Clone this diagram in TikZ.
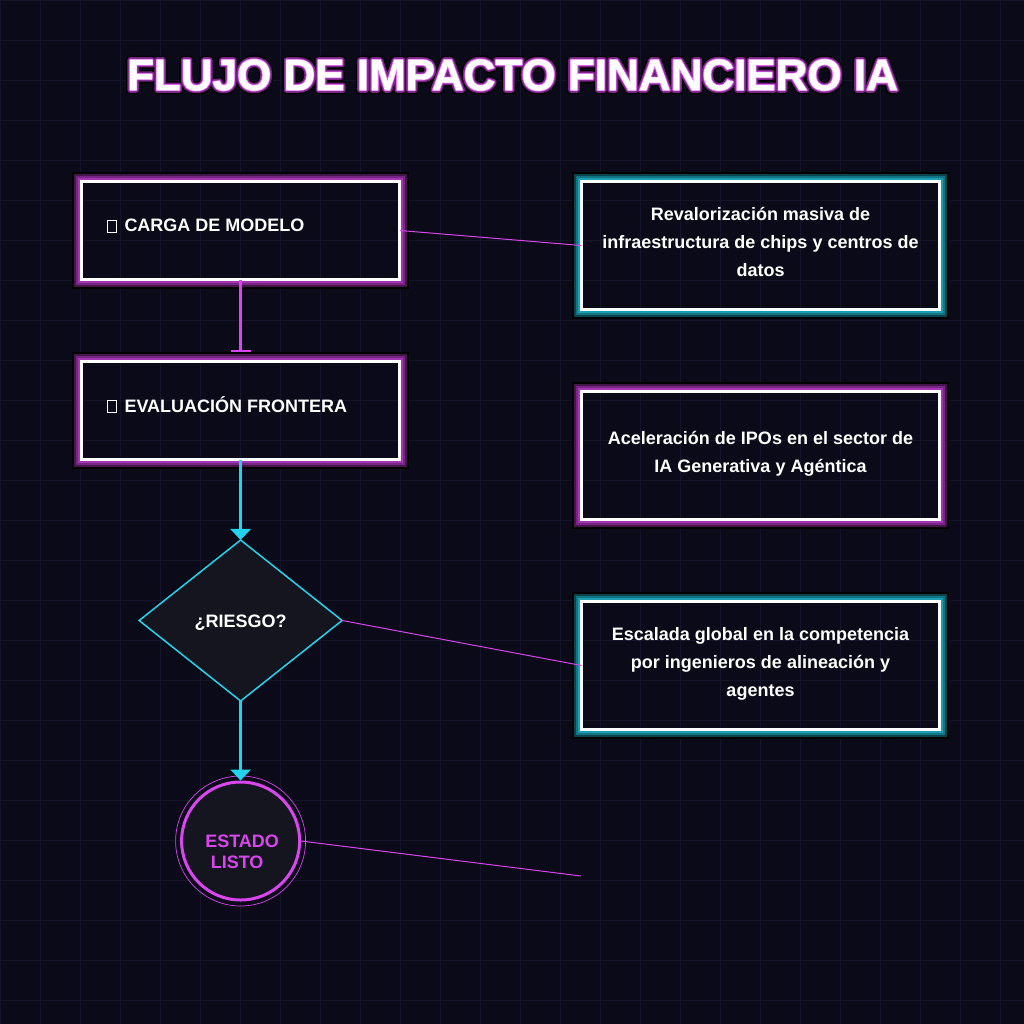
\documentclass[tikz,border=0pt]{standalone}
\usepackage{fontspec}
\setmainfont{Liberation Sans}
\newfontfamily\titlecore[FakeBold=1]{Liberation Sans Bold}
\newfontfamily\titlebright[FakeBold=5]{Liberation Sans Bold}
\newfontfamily\titlemid[FakeBold=12]{Liberation Sans Bold}
\newfontfamily\titleblack[FakeBold=18]{Liberation Sans Bold}
\usetikzlibrary{arrows,arrows.meta,positioning,shapes.geometric}
\definecolor{pagebg}{HTML}{0A0A18}
\definecolor{gridline}{HTML}{15152A}
\definecolor{panelbg}{HTML}{15151F}
\definecolor{neonpink}{HTML}{D946EF}
\definecolor{neoncyan}{HTML}{22D3EE}
\newcommand{\tofu}{{\fboxsep=0pt\fboxrule=.9pt\fbox{\rule{0pt}{11pt}\rule{7.6pt}{0pt}}}\hspace{8pt}}
\newcommand{\glowband}[4]{\draw[#2,line width=#3] ([shift={(-#4,#4)}]#1.north west) rectangle ([shift={(#4,-#4)}]#1.south east);}
\newcommand{\glowframe}[2]{\glowband{#1}{#2!75!black}{2pt}{2.5pt}\glowband{#1}{#2!55!black}{2pt}{4.5pt}\glowband{#1}{#2!32!black}{2pt}{6.5pt}\glowband{#1}{black}{2pt}{8.5pt}}
\begin{document}
\begin{tikzpicture}[
	flowbox/.style={rectangle,draw=white,line width=3pt,outer sep=0pt,inner sep=0pt,minimum width=318.4pt,minimum height=98pt},
	infobox/.style={flowbox,minimum width=358pt,minimum height=128pt,text=white,font=\bfseries\fontsize{18pt}{28pt}\selectfont,align=center,text width=340pt,
		execute at begin node={\spaceskip=5pt\rule[-11.2pt]{0pt}{28pt}},execute at end node={\rule[-11.2pt]{0pt}{28pt}}},
	boxtext/.style={inner sep=0pt,text=white,font=\bfseries\fontsize{18pt}{22pt}\selectfont,anchor=base west},
	titletext/.style={inner sep=0pt,font=\fontsize{44pt}{50pt}\selectfont},
	flowlink/.style={-{Triangle[width=20pt,length=11pt]},neoncyan,line width=3pt},
	stoplink/.style={-{Bar[width=20pt,line width=2.5pt]},neonpink,line width=3pt,shorten >=9.5pt},
	sidelink/.style={neonpink,line width=1pt}]

	\fill[pagebg] (0,0) rectangle (1024pt,-1024pt);
	\useasboundingbox (0,0) rectangle (1024pt,-1024pt);
	\foreach \gridpos in {0,40,...,1000} {
		\draw[gridline,line width=1pt] (\gridpos pt+.5pt,0) -- (\gridpos pt+.5pt,-1024pt);
		\draw[gridline,line width=1pt] (0,-\gridpos pt-.5pt) -- (1024pt,-\gridpos pt-.5pt);
	}

	\begin{scope}[line join=round]
	\node[titletext,text=black] (title-black) at (512.5pt,-75pt) {\titleblack FLUJO DE IMPACTO FINANCIERO IA};
	\node[titletext,text=neonpink!55!black] (title-mid) at (title-black) {\titlemid FLUJO DE IMPACTO FINANCIERO IA};
	\node[titletext,text=neonpink!85!white] (title-bright) at (title-black) {\titlebright FLUJO DE IMPACTO FINANCIERO IA};
	\node[titletext,text=white] (title-core) at (title-black) {\titlecore FLUJO DE IMPACTO FINANCIERO IA};
	\end{scope}

	\node[flowbox] (model) at (240.6pt,-230.5pt) {};
	\node[boxtext] (model-text) at ([xshift=25.5pt,yshift=-1.5pt]model.west) {\tofu CARGA DE MODELO};
	\node[flowbox, below = 82pt of model] (frontier) {};
	\node[boxtext] (frontier-text) at ([xshift=25.5pt,yshift=-1.5pt]frontier.west) {\tofu EVALUACIÓN FRONTERA};
	\node[diamond,draw=neoncyan,fill=panelbg,line width=1.5pt,outer sep=0pt,inner sep=0pt,minimum width=203pt,minimum height=161pt,text=white,font=\bfseries\fontsize{18pt}{22pt}\selectfont, below = 80.5pt of frontier] (risk) {\raisebox{-6.5pt}[0pt][0pt]{¿RIESGO?}};
	\node[circle,draw=neonpink,fill=panelbg,line width=3pt,inner sep=0pt,minimum size=118pt, below = 79.5pt of risk] (state) {};
	\node[circle,draw=neonpink,line width=.7pt,inner sep=0pt,minimum size=130pt] (state-ring) at (state) {};
	\node[inner sep=0pt,text=neonpink,align=left,font=\bfseries\fontsize{18pt}{21pt}\selectfont] (state-text) at ([xshift=1.5pt,yshift=-11pt]state) {ESTADO\\\hspace*{5.5pt}LISTO};

	\node[infobox, right = 181.7pt of model, yshift=-15pt] (chips) {Revalorización masiva de\\infraestructura de chips y centros de\\datos};
	\node[infobox, below = 82pt of chips] (ipos) {Aceleración de IPOs en el sector de\\IA Generativa y Agéntica};
	\node[infobox, below = 82pt of ipos] (talent) {Escalada global en la competencia\\por ingenieros de alineación y\\agentes};
	\coordinate (state-end) at (581pt,-876pt);

	\glowframe{model}{neonpink}
	\glowframe{frontier}{neonpink}
	\glowframe{chips}{neoncyan}
	\glowframe{ipos}{neonpink}
	\glowframe{talent}{neoncyan}

	\draw[stoplink] (model) -- (frontier);
	\draw[flowlink] (frontier) -- (risk);
	\draw[flowlink] (risk) -- (state);
	\draw[sidelink] (model.east) -- (chips.west);
	\draw[sidelink] (risk.east) -- (talent.west);
	\draw[sidelink] (state.east) -- (state-end);

\end{tikzpicture}
\end{document}
